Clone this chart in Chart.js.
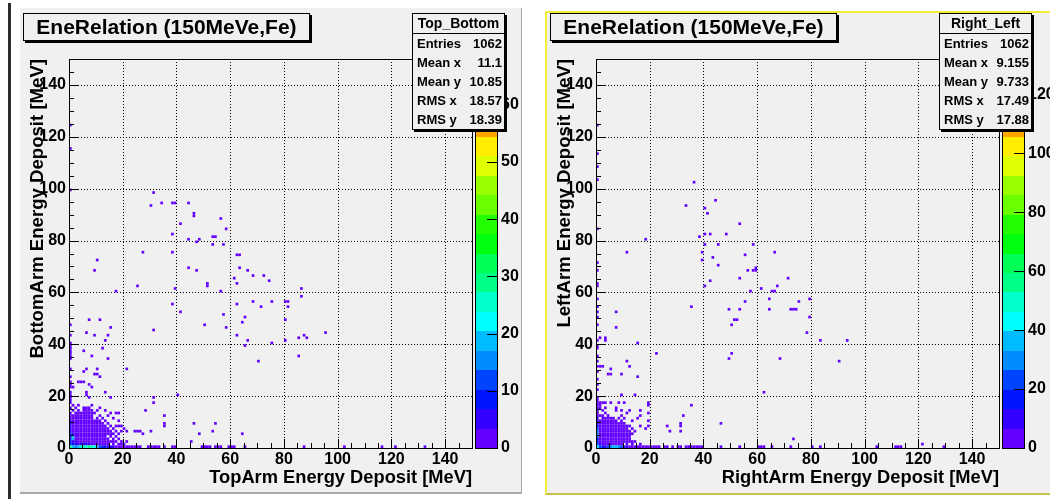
<!DOCTYPE html>
<html>
<head>
<meta charset="UTF-8" />
<title>EneRelation (150MeVe,Fe)</title>
<script src="https://cdn.jsdelivr.net/npm/chart.js@4.4.2/dist/chart.umd.min.js"></script>
<style>
    body {
        margin: 0;
        width: 1050px;
        height: 499px;
        overflow: hidden;
        position: relative;
        background: #fff;
        font-family: "Liberation Sans", Arial, sans-serif;
    }
    .edge { position: absolute; left: 8px; top: 3px; width: 3px; height: 496px; background: #2b2b2b; }
    .pad { position: absolute; background: #f0f0f0; }
    #padL { left: 20px; top: 8px; width: 501px; height: 484px; border-right: 1px solid #a9a9a9; border-bottom: 2px solid #a9a9a9; }
    #padR { left: 545px; top: 11px; width: 510px; height: 480px; border: 2px solid #f2ee3a; border-bottom-color: #c9c24a; }
    canvas { position: absolute; top: 0; }
    .ptitle {
        position: absolute; top: 13px; width: 285px; height: 26px;
        border: 1px solid #000; box-shadow: 2px 2px 0 #000; background: #f0f0f0;
        font-weight: bold; font-size: 21px; line-height: 26px; text-align: center; z-index: 2;
    }
    .stats {
        position: absolute; top: 13px; width: 91px;
        border: 1px solid #000; box-shadow: 2px 2px 0 #000; background: #f0f0f0;
        font-weight: bold; font-size: 13px; z-index: 2;
    }
    .stats .head { height: 19px; line-height: 19px; font-size: 14px; text-align: center; border-bottom: 1px solid #000; }
    .stats .row { height: 19px; line-height: 19px; padding: 0 2px 0 4px; display: flex; justify-content: space-between; }
</style>
</head>
<body>
<div class="edge"></div>
<div class="pad" id="padL"></div>
<div class="pad" id="padR"></div>
<canvas id="chartTB" width="523" height="499" style="left:0px"></canvas>
<canvas id="chartRL" width="523" height="499" style="left:527px"></canvas>

<script>
    // ---- values ----
    var panelTitle = "EneRelation (150MeVe,Fe)";
    var statLabels = ["Entries", "Mean x", "Mean y", "RMS x", "RMS y"];
    var tbStats = ["1062", "11.1", "10.85", "18.57", "18.39"];
    var rlStats = ["1062", "9.155", "9.733", "17.49", "17.88"];
    var axisMax = 150;
    var zMaxes = [68, 132];
    var zSteps = [10, 20];

    // Top_Bottom: [TopArm bin, BottomArm bin, entries]
    var tbCells = [
        [31,98,1],[30,93,1],[34,94,1],[38,94,1],[39,94,1],[44,94,1],[46,90,1],[46,89,1],[41,86,1],[56,88,1],
        [58,84,1],[38,82,1],[44,80,1],[47,79,1],[48,80,1],[53,81,1],[54,81,1],[53,78,1],[57,78,1],
        [27,75,1],[38,75,1],[62,74,1],[63,74,1],[10,72,1],[9,68,1],[44,69,1],[47,68,1],[63,69,1],[66,68,1],
        [68,66,1],[72,66,1],[74,64,1],[61,65,1],[62,63,1],[25,62,1],[39,61,1],[51,63,1],[51,62,1],[56,60,1],
        [17,60,1],[86,61,1],[86,58,1],[68,56,1],[71,54,1],[75,56,1],[80,56,1],[81,56,1],[81,54,1],[62,55,1],
        [38,55,1],[41,52,1],[57,51,1],[65,50,1],[64,48,1],[80,49,1],[50,47,1],[58,46,1],[31,45,1],[62,43,1],
        [66,41,1],[65,39,1],[75,40,1],[80,41,1],[85,42,1],[87,43,1],[88,42,1],[95,44,1],[85,35,1],[70,33,1],
        [7,49,1],[11,49,1],[15,46,1],[6,44,1],[9,43,1],[14,43,1],[13,41,1],[5,37,1],[12,38,1],[8,35,1],
        [14,34,1],[21,30,1],[6,30,1],[5,29,1],[10,30,1],[10,28,1],[11,27,1],[9,28,1],[3,25,1],[4,25,1],
        [5,25,1],[7,24,1],[8,23,1],[1,23,1],[6,21,1],[6,20,1],[13,21,1],[7,19,1],[15,19,1],[31,19,1],
        [31,17,1],[40,20,1],[28,14,1],[35,12,1],[35,9,1],[35,8,1],[46,9,1],[54,9,1],[53,6,1],[48,5,1],
        [45,2,1],[64,5,1],[30,6,1],
        [0,124,1],[0,115,1],[0,99,1],[0,47,1],[0,43,1],[0,40,1],[0,39,1],[0,38,1],[0,37,1],[0,36,1],
        [0,35,1],[0,34,1],[0,30,1],[0,27,1],[0,25,1],[0,24,1],[0,23,1],[0,21,1],[0,20,1],[0,19,1],[0,18,1],[0,17,1],
        [1,16,1],[3,16,1],[8,16,1],
        [0,15,1],[2,15,1],[5,15,2],[6,15,2],[7,15,1],[11,15,1],
        [1,14,1],[3,14,1],[5,14,2],[6,14,2],[7,14,1],[8,14,1],[10,14,1],[13,14,1],
        [0,13,2],[2,13,1],[3,13,1],[4,13,1],[5,13,1],[6,13,2],[7,13,1],[8,13,1],[9,13,1],[15,13,1],[17,13,1],[18,13,1],
        [0,12,3],[1,12,1],[2,12,1],[3,12,1],[4,12,1],[5,12,1],[6,12,2],[7,12,1],[8,12,1],[11,12,1],[14,12,1],
        [0,11,3],[1,11,1],[2,11,1],[3,11,1],[4,11,1],[5,11,1],[6,11,1],[7,11,1],[8,11,1],[10,11,1],[12,11,1],[16,11,1],
        [0,10,4],[1,10,1],[2,10,1],[3,10,1],[4,10,1],[5,10,1],[6,10,1],[7,10,1],[8,10,1],[9,10,1],[10,10,1],[11,10,1],[13,10,1],[18,10,1],
        [0,9,4],[1,9,1],[2,9,1],[3,9,1],[4,9,2],[5,9,1],[6,9,1],[7,9,1],[8,9,1],[9,9,1],[10,9,1],[11,9,1],[12,9,1],[14,9,1],
        [0,8,5],[1,8,2],[2,8,1],[3,8,1],[4,8,1],[5,8,1],[6,8,1],[7,8,2],[8,8,1],[9,8,1],[10,8,1],[11,8,1],[12,8,1],[13,8,1],[15,8,1],[17,8,1],[18,8,1],[19,8,1],
        [0,7,5],[1,7,2],[2,7,1],[3,7,1],[4,7,1],[5,7,1],[6,7,2],[7,7,1],[8,7,1],[9,7,1],[10,7,1],[11,7,1],[12,7,1],[13,7,1],[14,7,1],[16,7,1],[20,7,1],
        [0,6,6],[1,6,3],[2,6,2],[3,6,1],[4,6,1],[5,6,1],[6,6,1],[7,6,1],[8,6,1],[9,6,1],[10,6,1],[11,6,1],[12,6,1],[13,6,1],[14,6,1],[15,6,1],[17,6,1],[19,6,1],[21,6,1],[24,6,1],[25,6,1],[26,6,1],
        [0,5,7],[1,5,5],[2,5,2],[3,5,1],[4,5,2],[5,5,1],[6,5,1],[7,5,1],[8,5,1],[9,5,1],[10,5,1],[11,5,1],[12,5,1],[13,5,1],[14,5,1],[15,5,1],[16,5,1],[18,5,1],[27,5,1],
        [0,4,8],[1,4,18],[2,4,3],[3,4,2],[4,4,1],[5,4,2],[6,4,1],[7,4,1],[8,4,1],[9,4,1],[10,4,1],[11,4,1],[12,4,1],[13,4,1],[15,4,1],[17,4,1],
        [0,3,9],[1,3,20],[2,3,3],[3,3,2],[4,3,2],[5,3,2],[6,3,1],[7,3,2],[8,3,1],[9,3,1],[10,3,1],[11,3,1],[12,3,1],[13,3,1],[14,3,1],[16,3,1],[18,3,1],
        [0,2,8],[1,2,6],[2,2,4],[3,2,3],[4,2,3],[5,2,2],[6,2,3],[7,2,2],[8,2,2],[9,2,1],[10,2,1],[11,2,1],[12,2,1],[13,2,1],[14,2,1],[15,2,1],[16,2,1],[17,2,1],[19,2,1],[21,2,1],
        [0,1,10],[1,1,8],[2,1,6],[3,1,5],[4,1,6],[5,1,4],[6,1,5],[7,1,4],[8,1,3],[9,1,3],[10,1,2],[11,1,2],[12,1,1],[13,1,2],[14,1,1],[16,1,1],[18,1,1],[19,1,1],[20,1,1],
        [0,0,30],[1,0,20],[2,0,14],[3,0,18],[4,0,24],[5,0,27],[6,0,25],[7,0,28],[8,0,26],[9,0,22],[10,0,18],
        [11,0,12],[12,0,9],[13,0,7],[14,0,5],[15,0,4],[16,0,4],[17,0,3],[18,0,3],[19,0,2],[20,0,3],[21,0,2],
        [22,0,1],[23,0,2],[24,0,1],[25,0,1],[26,0,1],[29,0,1],[30,0,1],[31,0,1],[32,0,1],[33,0,1],[35,0,1],
        [38,0,1],[39,0,1],[49,0,1],[50,0,1],[51,0,1],[52,0,1],[54,0,1],[55,0,1],[56,0,1],[59,0,1],[60,0,1],
        [61,0,1],[65,0,1],[87,0,1],[102,0,1],[116,0,1],[121,0,1],[132,0,1]
    ];

    // Right_Left: [RightArm bin, LeftArm bin, entries]
    var rlCells = [
        [36,102,1],[33,93,1],[44,95,1],[40,92,1],[41,90,1],[53,86,1],[48,82,1],[42,82,1],[40,82,1],[38,81,1],
        [40,78,1],[45,78,1],[58,78,1],[18,80,1],[0,124,1],[0,113,1],[0,108,1],[0,103,1],[0,84,1],
        [11,75,1],[39,75,1],[39,72,1],[43,73,1],[45,70,1],[55,74,1],[66,75,1],[56,68,1],[58,68,1],[59,68,1],
        [59,69,1],[53,65,1],[42,64,1],[40,62,1],[71,65,1],[67,62,1],[61,61,1],[65,60,1],[66,60,1],[57,60,1],
        [64,57,1],[79,57,1],[75,56,1],[55,56,1],[35,54,1],[49,53,1],[53,53,1],[64,53,1],[72,53,1],[73,53,1],
        [74,53,1],[7,52,1],[51,49,1],[52,49,1],[50,47,1],[79,50,1],[78,44,1],[7,46,1],[83,41,1],[93,41,1],
        [15,40,1],[3,42,1],[3,41,1],[22,36,1],[50,36,1],[49,34,1],[68,34,1],[90,33,1],[11,33,1],[12,31,1],
        [5,30,1],[5,28,1],[9,28,1],[15,27,1],[62,21,1],[35,16,1],[32,12,1],[46,9,1],[73,3,1],
        [4,28,1],[9,20,1],[14,20,1],[5,17,1],[8,17,1],[10,17,1],[19,17,1],[19,16,1],[16,14,1],[7,15,1],
        [9,14,1],[12,14,1],[31,9,1],[26,8,1],[27,6,1],[31,8,1],[31,6,1],
        [0,71,1],[0,68,1],[0,63,1],[0,62,1],[0,57,1],[0,54,1],[0,52,1],[0,50,1],[0,47,1],[0,41,1],
        [0,39,1],[0,38,1],[0,35,1],[0,33,1],[0,31,1],[0,29,1],[0,26,1],[0,24,1],[0,22,1],[1,42,1],[1,31,1],[2,31,1],
        [0,19,2],[0,18,2],[0,17,3],[0,16,3],[0,15,4],[0,14,4],[0,13,5],[0,12,6],[0,11,8],[0,10,10],
        [0,9,12],[0,8,15],[0,7,26],[0,6,28],[0,5,30],[0,4,28],[0,3,16],[0,2,18],[0,1,20],
        [1,17,1],[1,16,1],[1,15,1],[1,12,1],[1,10,2],[1,9,2],[1,8,3],[1,7,3],[1,6,4],[1,5,6],[1,4,4],[1,3,5],[1,2,6],[1,1,8],
        [2,17,1],[3,17,1],[3,15,1],[2,14,1],[7,14,1],[3,13,1],[11,13,1],[19,13,1],
        [2,12,1],[4,12,1],[9,12,1],[16,12,1],
        [2,11,1],[3,11,1],[4,11,1],[5,11,1],[6,11,1],[8,11,1],[10,11,1],[15,11,1],
        [2,10,1],[3,10,1],[4,10,1],[5,10,1],[6,10,1],[7,10,1],[9,10,1],[13,10,1],[19,10,1],
        [2,9,1],[3,9,2],[4,9,1],[5,9,1],[6,9,1],[7,9,1],[8,9,1],[9,9,1],[10,9,1],
        [2,8,1],[3,8,2],[4,8,1],[5,8,1],[6,8,1],[7,8,1],[8,8,1],[9,8,1],[10,8,1],[11,8,1],[12,8,1],[16,8,1],[19,8,1],
        [2,7,2],[3,7,1],[4,7,1],[5,7,2],[6,7,1],[7,7,1],[8,7,1],[9,7,1],[10,7,1],[11,7,1],[13,7,1],[18,7,1],
        [2,6,2],[3,6,1],[4,6,1],[5,6,2],[6,6,1],[7,6,1],[8,6,1],[9,6,1],[10,6,1],[11,6,1],[12,6,1],[14,6,1],
        [2,5,2],[3,5,2],[4,5,1],[5,5,1],[6,5,2],[7,5,1],[8,5,1],[9,5,1],[10,5,1],[11,5,1],[12,5,1],[13,5,1],
        [2,4,3],[3,4,2],[4,4,1],[5,4,1],[6,4,2],[7,4,1],[8,4,1],[9,4,1],[10,4,1],[11,4,1],[12,4,1],
        [2,3,3],[3,3,2],[4,3,2],[5,3,1],[6,3,1],[7,3,1],[8,3,1],[9,3,1],[10,3,1],[11,3,1],[12,3,1],
        [2,2,4],[3,2,3],[4,2,2],[5,2,2],[6,2,2],[7,2,1],[8,2,1],[9,2,1],[10,2,1],[11,2,1],[12,2,1],[13,2,1],[14,2,1],
        [2,1,6],[3,1,5],[4,1,4],[5,1,4],[6,1,3],[7,1,3],[8,1,2],[9,1,2],[11,1,1],[13,1,1],[16,1,1],[121,1,1],
        [0,0,40],[1,0,20],[2,0,14],[3,0,12],[4,0,20],[5,0,30],[6,0,34],[7,0,36],[8,0,30],[9,0,24],[10,0,10],
        [11,0,8],[12,0,6],[13,0,4],[14,0,5],[15,0,3],[16,0,3],[17,0,2],[18,0,2],[19,0,2],[20,0,1],[21,0,1],
        [22,0,1],[23,0,1],[25,0,1],[26,0,1],[28,0,1],[30,0,1],[31,0,1],[33,0,1],[34,0,1],[35,0,1],[36,0,1],
        [37,0,1],[38,0,1],[39,0,1],[46,0,1],[53,0,1],[60,0,1],[61,0,1],[62,0,1],[65,0,1],[72,0,1],[80,0,1],
        [83,0,1],[104,0,1],[111,0,1],[112,0,1],[113,0,1],[129,0,1]
    ];

    // ---- ROOT-like colour palette (50 hues, 20 contour levels) ----
    var zLevels = 20;

    function paletteColor(level) {
        var idx = Math.floor((level + 0.99) * 50 / zLevels);
        var hue = 280 - (idx + 1) * 5.6;
        return "hsl(" + hue.toFixed(1) + ",100%,50%)";
    }

    function levelColor(n, zMax) {
        var level = Math.floor(0.01 + n * zLevels / zMax);
        if (level >= zLevels) level = zLevels - 1;
        return paletteColor(level);
    }

    var fontFamily = '"Liberation Sans", Arial, sans-serif';
    Chart.defaults.font.family = fontFamily;
    Chart.defaults.color = "#000";

    // dotted grid behind the bins
    var gridLines = {
        id: "gridLines",
        beforeDatasetsDraw: function (chart) {
            var ctx = chart.ctx, a = chart.chartArea, x = chart.scales.x, y = chart.scales.y;
            ctx.save();
            ctx.strokeStyle = "#000";
            ctx.lineWidth = 1;
            ctx.setLineDash([1, 2]);
            ctx.beginPath();
            for (var v = 20; v < axisMax; v += 20) {
                var px = Math.round(x.getPixelForValue(v)) + 0.5;
                ctx.moveTo(px, a.top);
                ctx.lineTo(px, a.bottom);
                var py = Math.round(y.getPixelForValue(v)) + 0.5;
                ctx.moveTo(a.left, py);
                ctx.lineTo(a.right, py);
            }
            ctx.stroke();
            ctx.restore();
        }
    };

    // frame and inner tick marks
    var frameTicks = {
        id: "frameTicks",
        afterDatasetsDraw: function (chart) {
            var ctx = chart.ctx, a = chart.chartArea, x = chart.scales.x, y = chart.scales.y;
            ctx.save();
            ctx.strokeStyle = "#000";
            ctx.lineWidth = 1;
            ctx.beginPath();
            for (var v = 0; v <= axisMax; v += 5) {
                var len = v % 20 === 0 ? 9 : 5;
                var px = Math.round(x.getPixelForValue(v)) + 0.5;
                ctx.moveTo(px, a.bottom);
                ctx.lineTo(px, a.bottom - len);
                var py = Math.round(y.getPixelForValue(v)) + 0.5;
                ctx.moveTo(a.left, py);
                ctx.lineTo(a.left + len, py);
            }
            ctx.stroke();
            ctx.strokeRect(Math.round(a.left) + 0.5, Math.round(a.top) + 0.5,
                Math.round(a.right - a.left), Math.round(a.bottom - a.top));
            ctx.restore();
        }
    };

    // palette bar next to the frame, on the z scale
    var colorBar = {
        id: "colorBar",
        afterDraw: function (chart) {
            var ctx = chart.ctx, z = chart.scales.z;
            var x0 = Math.round(z.left) + 3, x1 = Math.round(z.left) + 26;
            ctx.save();
            for (var i = 0; i < zLevels; i++) {
                var yb = Math.round(z.getPixelForValue(i * z.max / zLevels));
                var yt = Math.round(z.getPixelForValue((i + 1) * z.max / zLevels));
                ctx.fillStyle = paletteColor(i);
                ctx.fillRect(x0, yt, x1 - x0, yb - yt);
            }
            ctx.strokeStyle = "#000";
            ctx.lineWidth = 1;
            var top = Math.round(z.getPixelForValue(z.max)), bot = Math.round(z.getPixelForValue(0));
            ctx.strokeRect(x0 + 0.5, top + 0.5, x1 - x0 - 1, bot - top);
            ctx.beginPath();
            z.ticks.forEach(function (t) {
                var py = Math.round(z.getPixelForValue(t.value)) + 0.5;
                ctx.moveTo(x1, py);
                ctx.lineTo(x1 - 11, py);
            });
            ctx.stroke();
            ctx.restore();
        }
    };

    function binRadius(c) {
        var xs = c.chart.scales.x;
        return Math.abs(xs.getPixelForValue(1) - xs.getPixelForValue(0)) * Math.SQRT1_2;
    }

    function makePanel(canvasId, cells, zMax, zStep, xTitle, yTitle) {
        var tickFont = { family: fontFamily, size: 16, weight: "bold" };
        return new Chart(document.getElementById(canvasId).getContext("2d"), {
            type: "scatter",
            data: {
                datasets: [{
                    data: cells.map(function (c) { return { x: c[0] + 0.5, y: c[1] + 0.5, n: c[2] }; }),
                    pointStyle: "rect",
                    pointRadius: binRadius,
                    pointHoverRadius: binRadius,
                    borderWidth: 0,
                    backgroundColor: function (c) {
                        return c.raw ? levelColor(c.raw.n, zMax) : paletteColor(0);
                    }
                }]
            },
            options: {
                responsive: false,
                animation: false,
                events: [],
                layout: { padding: { left: 20, top: 59, right: 0, bottom: 10 } },
                plugins: { legend: { display: false }, tooltip: { enabled: false } },
                scales: {
                    x: {
                        type: "linear", min: 0, max: axisMax,
                        afterFit: function (s) { s.height = 41; },
                        grid: { display: false, drawTicks: false },
                        border: { display: false },
                        ticks: { stepSize: 20, includeBounds: false, padding: 2, font: tickFont, maxRotation: 0, autoSkip: false },
                        title: { display: true, text: xTitle, align: "end", font: { family: fontFamily, size: 18.3, weight: "bold" }, padding: { top: 0, bottom: 0 } }
                    },
                    y: {
                        type: "linear", min: 0, max: axisMax,
                        afterFit: function (s) { s.width = 49; },
                        grid: { display: false, drawTicks: false },
                        border: { display: false },
                        ticks: { stepSize: 20, includeBounds: false, padding: 3, font: tickFont, autoSkip: false },
                        title: { display: true, text: yTitle, align: "end", font: { family: fontFamily, size: 18.6, weight: "bold" }, padding: { top: 7, bottom: 0 } }
                    },
                    z: {
                        axis: "y", type: "linear", position: "right", min: 0, max: zMax,
                        afterFit: function (s) { s.width = 51; },
                        grid: { display: false, drawTicks: false },
                        border: { display: false },
                        ticks: { stepSize: zStep, includeBounds: false, padding: 29, font: tickFont, autoSkip: false }
                    }
                }
            },
            plugins: [gridLines, frameTicks, colorBar]
        });
    }

    function addBoxes(left, statTitle, stats) {
        var t = document.createElement("div");
        t.className = "ptitle";
        t.style.left = (left + 23) + "px";
        t.textContent = panelTitle;
        document.body.appendChild(t);

        var s = document.createElement("div");
        s.className = "stats";
        s.style.left = (left + 412) + "px";
        var head = document.createElement("div");
        head.className = "head";
        head.textContent = statTitle;
        s.appendChild(head);
        statLabels.forEach(function (lab, i) {
            var row = document.createElement("div");
            row.className = "row";
            var a = document.createElement("span");
            a.textContent = lab;
            var b = document.createElement("span");
            b.textContent = stats[i];
            row.appendChild(a);
            row.appendChild(b);
            s.appendChild(row);
        });
        document.body.appendChild(s);
    }

    makePanel("chartTB", tbCells, zMaxes[0], zSteps[0], "TopArm Energy Deposit [MeV]", "BottomArm Energy Deposit [MeV]");
    makePanel("chartRL", rlCells, zMaxes[1], zSteps[1], "RightArm Energy Deposit [MeV]", "LeftArm Energy Deposit [MeV]");
    addBoxes(0, "Top_Bottom", tbStats);
    addBoxes(527, "Right_Left", rlStats);
</script>
</body>
</html>
